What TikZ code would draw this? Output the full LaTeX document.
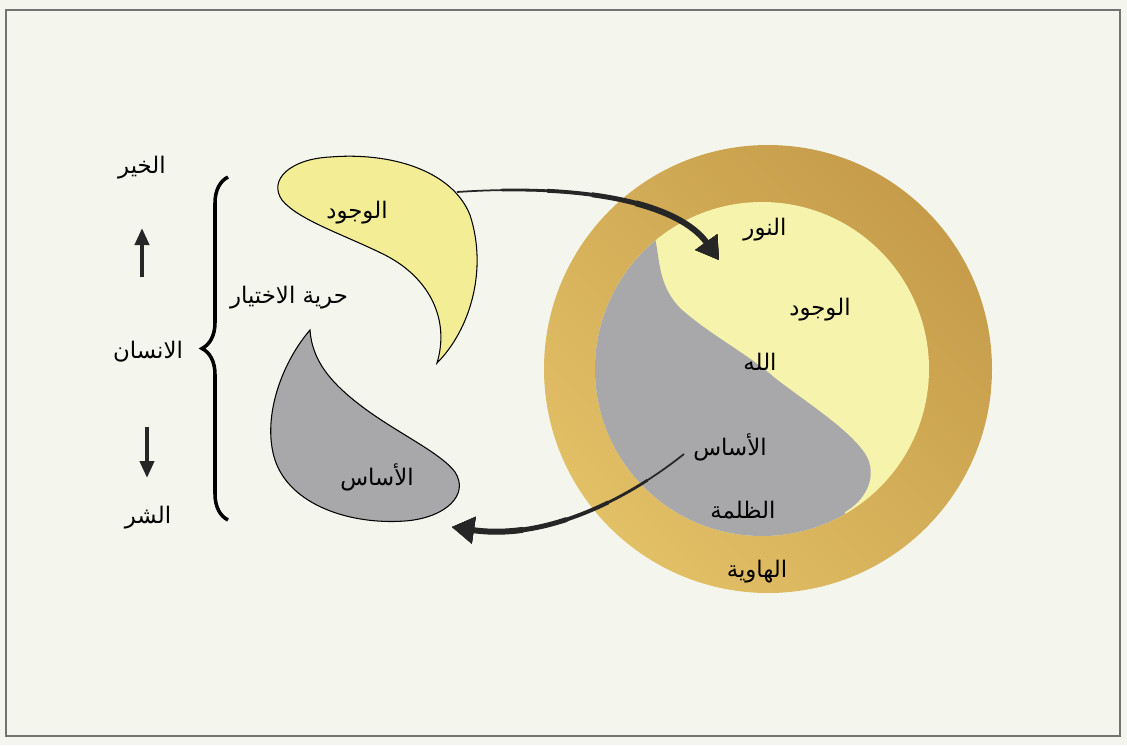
\documentclass[tikz,border=0pt]{standalone}
\usepackage{fontspec}
\newfontfamily\arabicfont[Script=Arabic]{DejaVu Sans}
\TeXXeTstate=1
\usetikzlibrary{arrows.meta,decorations.pathreplacing}
\definecolor{fondo}{RGB}{244,246,238}
\definecolor{giallo}{RGB}{243,237,150}
\definecolor{giallochiaro}{RGB}{246,243,172}
\definecolor{grigio}{RGB}{168,168,170}
\definecolor{oroscuro}{RGB}{198,156,74}
\definecolor{orochiaro}{RGB}{226,192,102}
\definecolor{inchiostro}{RGB}{38,38,38}
\begin{document}
\begin{tikzpicture}[x=0.02cm,y=-0.02cm,
    testo/.style={font=\fontsize{13}{15}\selectfont\arabicfont,inner sep=1pt},
    goccia/.style={draw=black,line width=0.6pt},
    freccia/.style={draw=inchiostro,line width=1.0pt,
        -{Triangle[length=0.44cm,width=0.52cm]},
        postaction={draw=inchiostro,line width=1.6pt,dash pattern=on 0pt off 0.9cm on 20cm},
        postaction={draw=inchiostro,line width=2.2pt,dash pattern=on 0pt off 1.8cm on 20cm},
        postaction={draw=inchiostro,line width=2.8pt,dash pattern=on 0pt off 2.7cm on 20cm},
        postaction={draw=inchiostro,line width=3.4pt,dash pattern=on 0pt off 3.6cm on 20cm}},
    verticale/.style={draw=inchiostro,line width=2.3pt,
        -{Triangle[length=0.34cm,width=0.28cm]}},
    graffa/.style={draw=black,line width=2pt,decorate,
        decoration={brace,amplitude=0.52cm}}]

  % ---- fondo e cornice ------------------------------------------------------
  \fill[fondo] (0,0) rectangle (1127,745);
  \useasboundingbox (0,0) rectangle (1127,745);
  \draw[line width=0.6pt,black!55] (6,10) rectangle (1120,736);

  % ---- cerchio: la voragine, la luce e il buio --------------------------------
  \shade[top color=oroscuro,bottom color=orochiaro,shading angle=-45]
        (768,369) circle[radius=224];
  \fill[giallochiaro] (762,369) circle[radius=167];
  \begin{scope}
    \clip (762,369) circle[radius=167];
    \fill[grigio] (650,225) -- (655,238)
        .. controls (660,260) and (658,285) .. (680,308)
        .. controls (710,335) and (745,352) .. (775,378)
        .. controls (810,405) and (850,430) .. (866,455)
        .. controls (878,476) and (866,500) .. (845,512)
        -- (845,560) -- (570,560) -- (570,200) -- cycle;
  \end{scope}

  \node[testo] (luce)       at (765,230) {\beginR النور\endR};
  \node[testo] (esistenza2) at (820,310) {\beginR الوجود\endR};
  \node[testo] (dio)        at (760,362) {\beginR الله\endR};
  \node[testo] (base2)      at (730,447) {\beginR الأساس\endR};
  \node[testo] (buio)       at (743,510) {\beginR الظلمة\endR};
  \node[testo] (abisso)     at (757,572) {\beginR الهاوية\endR};

  % ---- le due gocce -----------------------------------------------------------
  \draw[goccia,fill=giallo] (437,363)
        .. controls (470,330) and (488,270) .. (470,215)
        .. controls (452,170) and (390,152) .. (330,157)
        .. controls (290,159) and (268,180) .. (282,200)
        .. controls (298,220) and (345,235) .. (385,255)
        .. controls (430,278) and (450,320) .. cycle;
  \draw[goccia,fill=grigio] (310,330)
        .. controls (280,365) and (262,420) .. (275,460)
        .. controls (290,505) and (350,525) .. (405,521)
        .. controls (445,518) and (470,495) .. (455,472)
        .. controls (440,452) and (395,432) .. (360,405)
        .. controls (330,382) and (312,360) .. cycle;

  \node[testo] (esistenza) at (357,213) {\beginR الوجود\endR};
  \node[testo] (base)      at (377,477) {\beginR الأساس\endR};
  \node[testo] (liberta)   at (289,298) {\beginR حرية الاختيار\endR};

  % ---- il bene, l'uomo, il male -------------------------------------------------
  \node[testo] (bene) at (142,168) {\beginR الخير\endR};
  \node[testo] (uomo) at (148,352) {\beginR الانسان\endR};
  \node[testo] (male) at (148,518) {\beginR الشر\endR};

  \coordinate (su0) at (142,277);
  \coordinate (su1) at (142,228);
  \coordinate (giu0) at (147,427);
  \coordinate (giu1) at (147,478);
  \draw[verticale] (su0) -- (su1);
  \draw[verticale] (giu0) -- (giu1);

  \coordinate (graffa0) at (228,520);
  \coordinate (graffa1) at (228,177);
  \draw[graffa] (graffa0) -- (graffa1);

  % ---- frecce tra gocce e cerchio ------------------------------------------------
  \coordinate (andata0) at (457,192);
  \coordinate (andata1) at (719,260);
  \coordinate (ritorno0) at (684,454);
  \coordinate (ritorno1) at (452,527);
  \draw[freccia] (andata0) .. controls (590,183) and (680,205) .. (andata1);
  \draw[freccia] (ritorno0) .. controls (620,505) and (540,540) .. (ritorno1);

\end{tikzpicture}
\end{document}
